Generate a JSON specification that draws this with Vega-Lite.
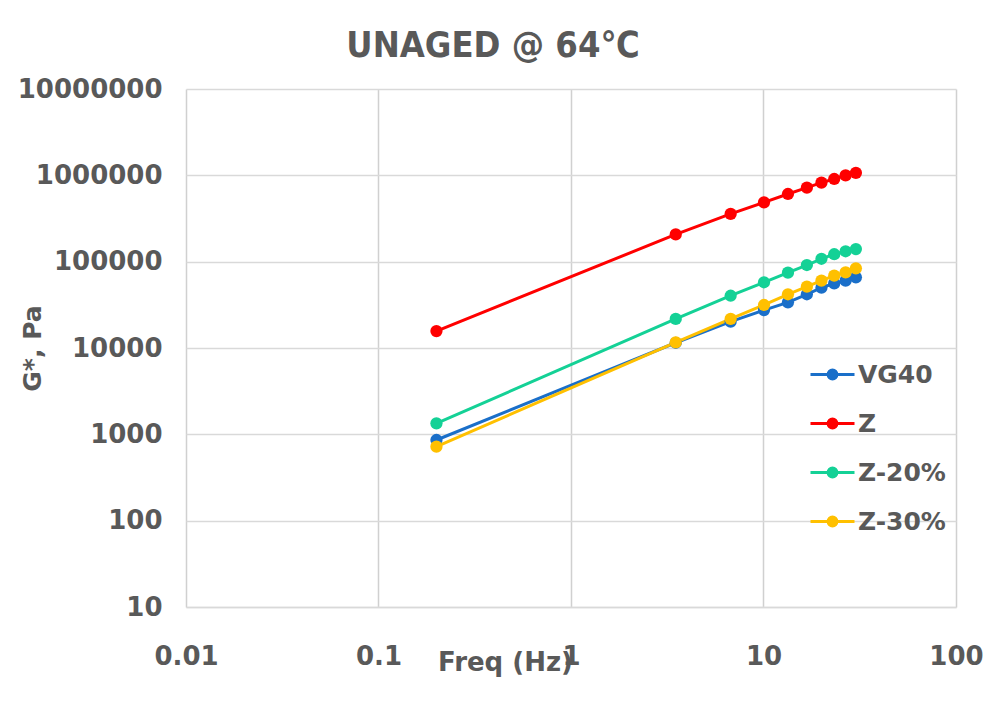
{
  "$schema": "https://vega.github.io/schema/vega-lite/v6.json",
  "autosize": "none",
  "width": 770,
  "height": 518,
  "padding": {"left": 186, "top": 89, "right": 27, "bottom": 109},
  "background": "white",
  "title": {
    "text": "UNAGED @ 64℃",
    "font": "DejaVu Sans Condensed",
    "fontSize": 36,
    "fontWeight": "bold",
    "color": "#595959",
    "anchor": "middle",
    "dx": -78,
    "baseline": "alphabetic",
    "offset": -17
  },
  "data": {
    "values": [
      {"freq": 0.2, "series": "VG40", "g": 860},
      {"freq": 3.5, "series": "VG40", "g": 11500},
      {"freq": 6.75, "series": "VG40", "g": 20200},
      {"freq": 10.06, "series": "VG40", "g": 27500},
      {"freq": 13.4, "series": "VG40", "g": 33800},
      {"freq": 16.8, "series": "VG40", "g": 41900},
      {"freq": 20.0, "series": "VG40", "g": 49900},
      {"freq": 23.3, "series": "VG40", "g": 56100},
      {"freq": 26.7, "series": "VG40", "g": 60200},
      {"freq": 30.2, "series": "VG40", "g": 65900},
      {"freq": 0.2, "series": "Z", "g": 15700},
      {"freq": 3.5, "series": "Z", "g": 207000},
      {"freq": 6.75, "series": "Z", "g": 357000},
      {"freq": 10.06, "series": "Z", "g": 487000},
      {"freq": 13.4, "series": "Z", "g": 608000},
      {"freq": 16.8, "series": "Z", "g": 720000},
      {"freq": 20.0, "series": "Z", "g": 822000},
      {"freq": 23.3, "series": "Z", "g": 907000},
      {"freq": 26.7, "series": "Z", "g": 1000000},
      {"freq": 30.2, "series": "Z", "g": 1070000},
      {"freq": 0.2, "series": "Z-20%", "g": 1340},
      {"freq": 3.5, "series": "Z-20%", "g": 21700},
      {"freq": 6.75, "series": "Z-20%", "g": 40300},
      {"freq": 10.06, "series": "Z-20%", "g": 57700},
      {"freq": 13.4, "series": "Z-20%", "g": 74500},
      {"freq": 16.8, "series": "Z-20%", "g": 91400},
      {"freq": 20.0, "series": "Z-20%", "g": 108000},
      {"freq": 23.3, "series": "Z-20%", "g": 122000},
      {"freq": 26.7, "series": "Z-20%", "g": 132000},
      {"freq": 30.2, "series": "Z-20%", "g": 140000},
      {"freq": 0.2, "series": "Z-30%", "g": 720},
      {"freq": 3.5, "series": "Z-30%", "g": 11600},
      {"freq": 6.75, "series": "Z-30%", "g": 21700},
      {"freq": 10.06, "series": "Z-30%", "g": 31500},
      {"freq": 13.4, "series": "Z-30%", "g": 41900},
      {"freq": 16.8, "series": "Z-30%", "g": 51300},
      {"freq": 20.0, "series": "Z-30%", "g": 60200},
      {"freq": 23.3, "series": "Z-30%", "g": 68800},
      {"freq": 26.7, "series": "Z-30%", "g": 75200},
      {"freq": 30.2, "series": "Z-30%", "g": 83700}
    ]
  },
  "mark": {
    "type": "line",
    "strokeWidth": 3,
    "point": {"filled": true, "size": 150, "opacity": 1}
  },
  "encoding": {
    "x": {
      "field": "freq",
      "type": "quantitative",
      "scale": {"type": "log", "domain": [0.01, 100], "nice": false},
      "axis": {
        "title": "Freq (Hz)",
        "values": [0.01, 0.1, 1, 10, 100],
        "format": "~g",
        "grid": true,
        "gridColor": "#d0d0d0",
        "gridWidth": 1.5,
        "domain": true,
        "domainColor": "#d9d9d9",
        "domainWidth": 1.5,
        "ticks": false,
        "tickSize": 0,
        "labelPadding": 36,
        "labelBaseline": "top",
        "labelFont": "DejaVu Sans",
        "labelFontSize": 26,
        "labelFontWeight": "bold",
        "labelColor": "#595959",
        "labelFlush": false,
        "labelOverlap": false,
        "titleFont": "DejaVu Sans",
        "titleFontSize": 26,
        "titleFontWeight": "bold",
        "titleColor": "#595959",
        "titleX": 319,
        "titleY": 63,
        "titleAlign": "center",
        "titleBaseline": "alphabetic"
      }
    },
    "y": {
      "field": "g",
      "type": "quantitative",
      "scale": {"type": "log", "domain": [10, 10000000], "nice": false},
      "axis": {
        "title": "G*, Pa",
        "values": [10, 100, 1000, 10000, 100000, 1000000, 10000000],
        "format": "d",
        "grid": true,
        "gridColor": "#d9d9d9",
        "gridWidth": 1.5,
        "domain": false,
        "ticks": false,
        "tickSize": 0,
        "labelPadding": 24,
        "labelFont": "DejaVu Sans",
        "labelFontSize": 26,
        "labelFontWeight": "bold",
        "labelColor": "#595959",
        "labelFlush": false,
        "labelOverlap": false,
        "titleFont": "DejaVu Sans",
        "titleFontSize": 25,
        "titleFontWeight": "bold",
        "titleColor": "#595959",
        "titleAngle": -90,
        "titleX": -146,
        "titleY": 259,
        "titleAlign": "center",
        "titleBaseline": "alphabetic"
      }
    },
    "color": {
      "field": "series",
      "type": "nominal",
      "scale": {
        "domain": ["VG40", "Z", "Z-20%", "Z-30%"],
        "range": ["#1a6fc9", "#ff0000", "#14d196", "#ffc000"]
      },
      "legend": {
        "title": null,
        "orient": "none",
        "legendX": 623,
        "legendY": 262,
        "padding": 0,
        "symbolType": "M-1,0H1M-0.2,0A0.2,0.2,0,1,1,0.2,0A0.2,0.2,0,1,1,-0.2,0Z",
        "symbolSize": 1936,
        "symbolStrokeWidth": 3,
        "labelOffset": 2,
        "rowPadding": 12,
        "labelFont": "DejaVu Sans",
        "labelFontSize": 25,
        "labelFontWeight": "bold",
        "labelColor": "#595959",
        "encode": {
          "symbols": {
            "update": {
              "fill": {"scale": "color", "field": "value"},
              "stroke": {"scale": "color", "field": "value"},
              "opacity": {"value": 1}
            }
          }
        }
      }
    }
  },
  "config": {
    "view": {"stroke": null}
  }
}
